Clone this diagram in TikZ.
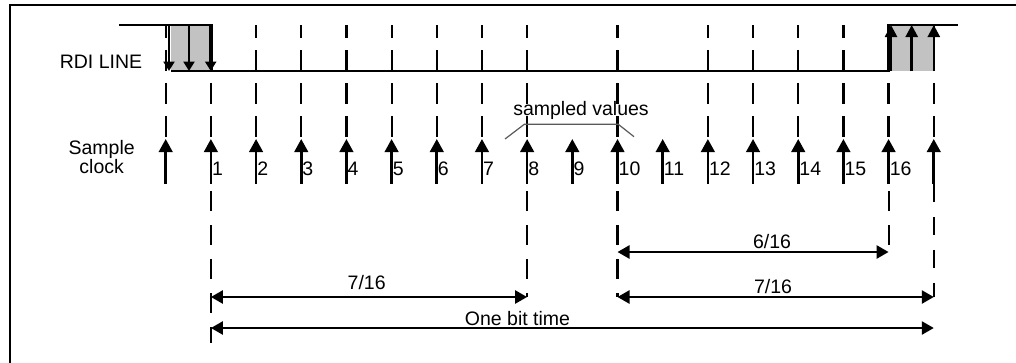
\documentclass[tikz,border=0pt]{standalone}
\usepackage{fontspec}
\setmainfont{Liberation Sans}
\usetikzlibrary{arrows.meta}
\begin{document}
\begin{tikzpicture}[x=1pt,y=-1pt,
  lbl/.style={font=\fontsize{19.5}{18.5}\selectfont, inner sep=0pt},
  vdash/.style={line width=2.2pt, dash pattern=on 21pt off 12pt, dash phase=8pt},
  ldash/.style={line width=2.2pt, dash pattern=on 20pt off 14pt},
  clk/.style={line width=2.6pt, -{Triangle[length=13pt,width=13.5pt]}},
  rdi/.style={line width=2.8pt},
  dn/.style={line width=2.5pt, -{Triangle[length=9.5pt,width=11pt]}},
  up/.style={line width=2.5pt, -{Triangle[length=12pt,width=12pt]}},
  dim/.style={line width=2.5pt, {Triangle[length=12pt,width=13pt]}-{Triangle[length=12pt,width=13pt]}},
  brace/.style={draw=black!65, line width=1.2pt},
  shade/.style={fill=black!24}
]
\useasboundingbox (0,0) rectangle (1016,362);
% frame
\draw[line width=2pt] (10,364) -- (10,5) -- (1018,5);
% time coordinates
\foreach \i in {0,...,17}{
  \pgfmathsetmacro\xx{165.7+45.18*\i}
  \coordinate (t\i) at (\xx,0);
}
% shaded transition regions
\fill[shade] (171,25) rectangle (212,71);
\fill[shade] (888.5,25) rectangle (934,71);
% upper dashed lines
\foreach \i in {0,1,2,3,4,5,6,7,8,10,12,13,14,15,16,17}{
  \pgfmathsetmacro\xx{165.7+45.18*\i}
  \draw[vdash] (\xx,25) -- (\xx,139);
}
% lower dashed lines
\foreach \xx/\yy in {210.9/343, 527.1/297, 617.5/297, 888.6/252}{
  \draw[ldash] (\xx,191) -- (\xx,\yy);
}
\draw[line width=2.2pt, dash pattern=on 18pt off 15pt] (933.8,184) -- (933.8,297);
% RDI line
\draw[rdi] (119,25) -- (212,25) -- (212,71);
\draw[rdi] (171,71) -- (888.5,71) -- (888.5,25) -- (958,25);
\foreach \xx in {169,189,210.7}{
  \draw[dn] (\xx,25) -- (\xx,71);
}
\foreach \xx in {891,911.7,933.8}{
  \draw[up] (\xx,71) -- (\xx,25);
}
% sample clock arrows
\foreach \i in {0,...,17}{
  \pgfmathsetmacro\xx{165.7+45.18*\i}
  \draw[clk] (\xx,184) -- (\xx,139);
}
\foreach \i in {1,...,16}{
  \pgfmathsetmacro\xx{165.7+45.18*\i+1}
  \node[lbl, anchor=west] (n\i) at (\xx,169) {\i};
}
% labels
\node[lbl] (rdilbl) at (101,62) {RDI LINE};
\node[lbl, align=center] (clklbl) at (101.7,157) {Sample\\clock};
\node[lbl] (samp) at (581,110) {sampled values};
\draw[brace] (505,139) -- (524.3,124.3) -- (618.3,124.3) -- (634,136.7);
% dimension arrows
\coordinate (a1) at (210.9,297);
\coordinate (a8) at (527.1,297);
\coordinate (b10) at (617.5,252);
\coordinate (b16) at (888.6,252);
\coordinate (c10) at (617.5,297);
\coordinate (c17) at (933.8,297);
\coordinate (d1) at (210.9,328);
\coordinate (d17) at (933.8,328);
\draw[dim] (a1) -- (a8);
\draw[dim] (b10) -- (b16);
\draw[dim] (c10) -- (c17);
\draw[dim] (d1) -- (d17);
\node[lbl] (l1) at (366.7,283) {7/16};
\node[lbl] (l2) at (772,241.5) {6/16};
\node[lbl] (l3) at (773,286.5) {7/16};
\node[lbl] (l4) at (517.5,319) {One bit time};
\end{tikzpicture}
\end{document}
